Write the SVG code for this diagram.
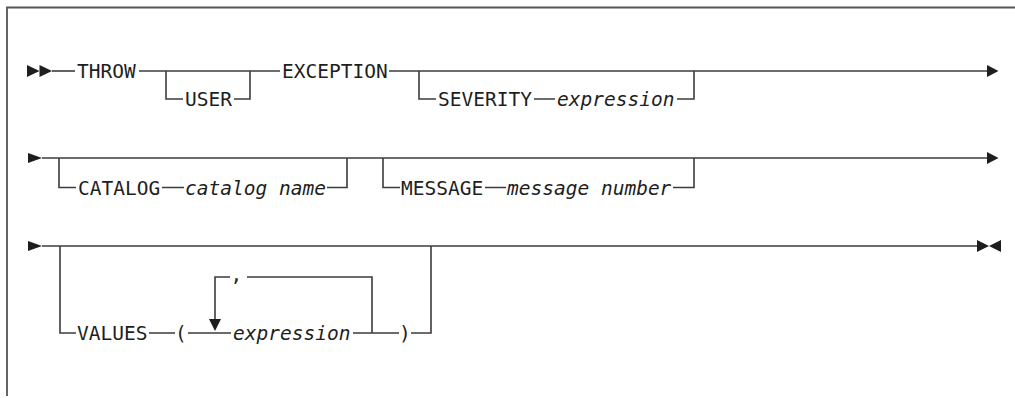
<svg xmlns="http://www.w3.org/2000/svg" width="1015" height="398" viewBox="0 0 1015 398">
<style>
.ln{fill:none;stroke:#3c3c3c;stroke-width:1.6}
.fr{fill:none;stroke:#555;stroke-width:1.8}
.ar{fill:#1e1e1e;stroke:none}
.kw{font-family:"DejaVu Sans Mono","Liberation Mono",monospace;font-size:19.5px;fill:#1e1e1e}
.it{font-family:"DejaVu Sans Mono","Liberation Mono",monospace;font-size:19.5px;font-style:italic;fill:#1e1e1e}
</style>
<rect width="1015" height="398" fill="#fff"/>
<path class="fr" d="M7,396 V7.5 H1015"/>
<g id="connectors">
<path class="ln" d="M52,71 H75"/>
<path class="ln" d="M139,71 H280"/>
<path class="ln" d="M166,71 V99 H183 M234,99 H250 V71"/>
<path class="ln" d="M389,71 H988"/>
<path class="ln" d="M419,71 V99 H436 M534,99 H555 M677,99 H694 V71"/>
<path class="ln" d="M42,158 H988"/>
<path class="ln" d="M59,158 V187.5 H76 M162,187.5 H184 M327,187.5 H347 V158"/>
<path class="ln" d="M383,158 V187.5 H400 M485,187.5 H506 M673,187.5 H694 V158"/>
<path class="ln" d="M42,246 H978"/>
<path class="ln" d="M60,246 V333 H76 M149,333 H175 M188,333 H231 M353,333 H399 M411,333 H431 V246"/>
<path class="ln" d="M372,333 V277 H247 M230,277 H215 V320"/>
<polygon class="ar" points="27,65 39.5,71 27,77"/>
<polygon class="ar" points="39.5,65 52,71 39.5,77"/>
<polygon class="ar" points="987,65 998.5,71 987,77"/>
<polygon class="ar" points="28,153 42,158 28,163"/>
<polygon class="ar" points="987,152 998.5,158 987,164"/>
<polygon class="ar" points="28,241 42,246 28,251"/>
<polygon class="ar" points="977,240 989,246 977,252"/>
<polygon class="ar" points="1001,240 989,246 1001,252"/>
<polygon class="ar" points="209,319 221,319 215,331"/>
</g>
<g id="throw"><text class="kw" x="77" y="77.5">THROW</text></g>
<g id="user"><text class="kw" x="185" y="106">USER</text></g>
<g id="exception"><text class="kw" x="282" y="77.5">EXCEPTION</text></g>
<g id="severity"><text class="kw" x="438" y="106">SEVERITY</text></g>
<g id="severity-expression"><text class="it" x="557" y="106">expression</text></g>
<g id="catalog"><text class="kw" x="78" y="194.5">CATALOG</text></g>
<g id="catalog-name"><text class="it" x="185" y="194.5">catalog name</text></g>
<g id="message"><text class="kw" x="401" y="194.5">MESSAGE</text></g>
<g id="message-number"><text class="it" x="507" y="194.5">message number</text></g>
<g id="values"><text class="kw" x="77" y="340">VALUES</text></g>
<g id="lparen"><text class="kw" x="175" y="340">(</text></g>
<g id="values-expression"><text class="it" x="233" y="340">expression</text></g>
<g id="rparen"><text class="kw" x="399" y="340">)</text></g>
<g id="comma"><text class="kw" x="230.5" y="281">,</text></g>
</svg>
